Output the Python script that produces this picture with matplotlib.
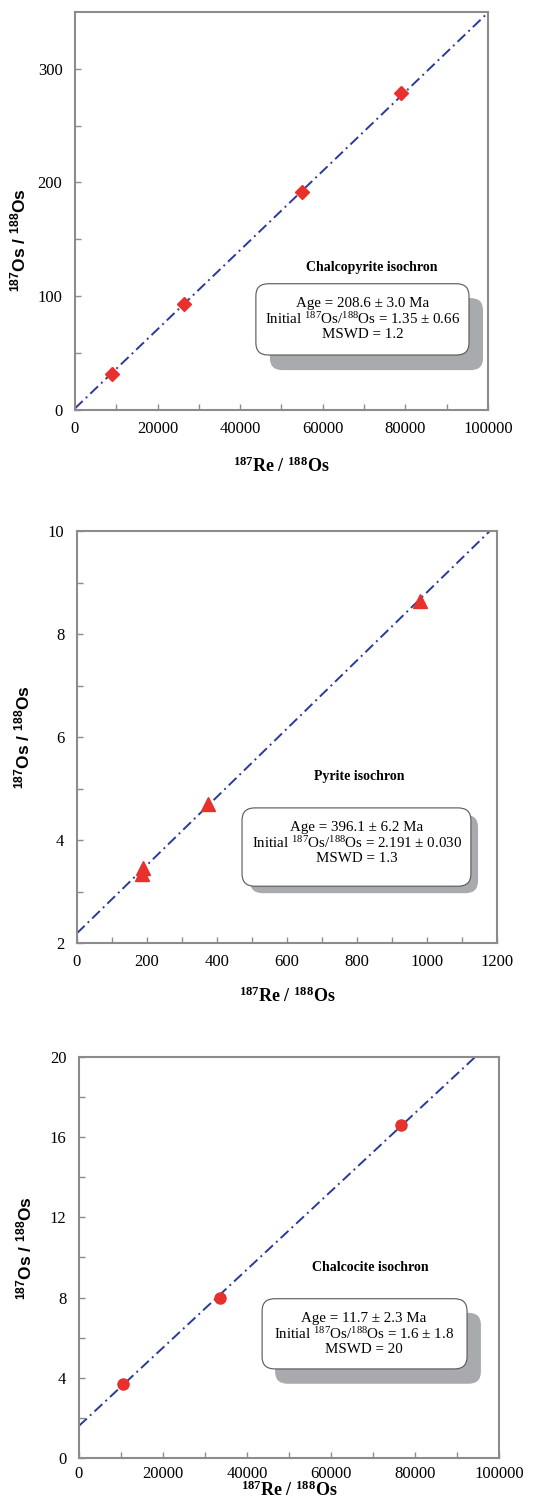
import matplotlib
matplotlib.use("Agg")
import matplotlib.pyplot as plt
from matplotlib.patches import FancyBboxPatch

plt.rcParams["font.family"] = ["Liberation Serif", "DejaVu Serif"]
plt.rcParams["mathtext.default"] = "regular"

# -------------------------
# data
# -------------------------
cpy_re = [9000, 26500, 55000, 79000]
cpy_os = [32, 93, 192, 279]

py_re = [185, 190, 375, 980]
py_os = [3.35, 3.45, 4.7, 8.65]

cc_re = [10500, 33500, 76700]
cc_os = [3.7, 8.0, 16.6]

# isochron fits (intercept, slope)
intercepts = [1.35, 2.191, 1.6]
slopes = [0.00348, 0.00662, 0.000195]

titles = ["Chalcopyrite isochron", "Pyrite isochron", "Chalcocite isochron"]
stats = [
    "Age = 208.6 ± 3.0 Ma\nInitial $^{187}$Os/$^{188}$Os = 1.35 ± 0.66\nMSWD = 1.2",
    "Age = 396.1 ± 6.2 Ma\nInitial $^{187}$Os/$^{188}$Os = 2.191 ± 0.030\nMSWD = 1.3",
    "Age = 11.7 ± 2.3 Ma\nInitial $^{187}$Os/$^{188}$Os = 1.6 ± 1.8\nMSWD = 20",
]

RED = "#e8302c"
BLUE = "#2b3a98"
GREY = "#8c8c8c"
SHADOW = "#a8aaae"

fig = plt.figure(figsize=(5.41, 15.06), dpi=100)

rects = [
    [0.1386, 0.7278, 0.7634, 0.2643],
    [0.1423, 0.3738, 0.7763, 0.2736],
    [0.1460, 0.0319, 0.7763, 0.2663],
]
xlims = [(0, 100000), (0, 1200), (0, 100000)]
ylims = [(0, 350), (2, 10), (0, 20)]
xmajor = [range(0, 100001, 20000), range(0, 1201, 200), range(0, 100001, 20000)]
xminor = [range(10000, 100000, 20000), range(100, 1200, 200), range(10000, 100000, 20000)]
ymajor = [[0, 100, 200, 300], [2, 4, 6, 8, 10], [0, 4, 8, 12, 16, 20]]
yminor = [[50, 150, 250], [3, 5, 7, 9], [2, 6, 10, 14, 18]]
xpads = [8, 8, 6]
xlabelpads = [14, 12, -1]
ylabel_pos = [(-0.114, 0.427), (-0.105, 0.5), (-0.105, 0.524)]

# box layout in axes fraction: (white box, shadow box, title pos, text pos)
boxes = [
    ((0.438, 0.138, 0.516, 0.179), (0.472, 0.100, 0.516, 0.181), (0.719, 0.359), (0.697, 0.229)),
    ((0.393, 0.138, 0.545, 0.190), (0.412, 0.121, 0.543, 0.190), (0.671, 0.405), (0.667, 0.243)),
    ((0.436, 0.222, 0.488, 0.175), (0.467, 0.185, 0.490, 0.177), (0.693, 0.474), (0.679, 0.309)),
]

series = [(cpy_re, cpy_os, "D", 7.5), (py_re, py_os, "^", 9.5), (cc_re, cc_os, "o", 8)]

for i, (xs, ys, mk, ms) in enumerate(series):
    ax = fig.add_axes(rects[i])
    ax.set_xlim(*xlims[i])
    ax.set_ylim(*ylims[i])

    # isochron line
    x0, x1 = xlims[i]
    ax.plot([x0, x1], [intercepts[i] + slopes[i] * x0, intercepts[i] + slopes[i] * x1],
            color=BLUE, lw=1.4, linestyle=(0, (5.5, 2.2, 1, 2.2)), zorder=2)
    ax.plot(xs, ys, linestyle="none", marker=mk, ms=ms, color=RED, mec=RED, zorder=3)

    ax.set_xticks(list(xmajor[i]))
    ax.set_xticks(list(xminor[i]), minor=True)
    ax.set_yticks(ymajor[i])
    ax.set_yticks(yminor[i], minor=True)
    ax.tick_params(which="both", direction="in", length=4, width=1, color=GREY, labelsize=12)
    ax.tick_params(axis="x", which="both", pad=xpads[i])
    ax.tick_params(axis="y", which="both", pad=9)
    for sp in ax.spines.values():
        sp.set_color(GREY)
        sp.set_linewidth(1.5)

    ax.set_xlabel("$^{187}$Re / $^{188}$Os", fontsize=13, fontweight="bold",
                  labelpad=xlabelpads[i])
    ax.set_ylabel("$^{187}$Os / $^{188}$Os", fontsize=12.5, fontweight="bold",
                  family=["Liberation Sans", "DejaVu Sans"])
    ax.yaxis.set_label_coords(*ylabel_pos[i])

    wb, sb, tpos, spos = boxes[i]
    shadow = FancyBboxPatch((sb[0], sb[1]), sb[2], sb[3], boxstyle="round,pad=0,rounding_size=0.03",
                            transform=ax.transAxes, facecolor=SHADOW, edgecolor="none", zorder=4)
    white = FancyBboxPatch((wb[0], wb[1]), wb[2], wb[3], boxstyle="round,pad=0,rounding_size=0.03",
                           transform=ax.transAxes, facecolor="white", edgecolor="#555555",
                           lw=0.8, zorder=5)
    ax.add_patch(shadow)
    ax.add_patch(white)
    ax.text(tpos[0], tpos[1], titles[i], transform=ax.transAxes, ha="center", va="center",
            fontsize=10, fontweight="bold", zorder=6)
    ax.text(spos[0], spos[1], stats[i], transform=ax.transAxes, ha="center", va="center",
            fontsize=10.8, linespacing=1.1, zorder=6)

fig.savefig("out.png", dpi=100)
